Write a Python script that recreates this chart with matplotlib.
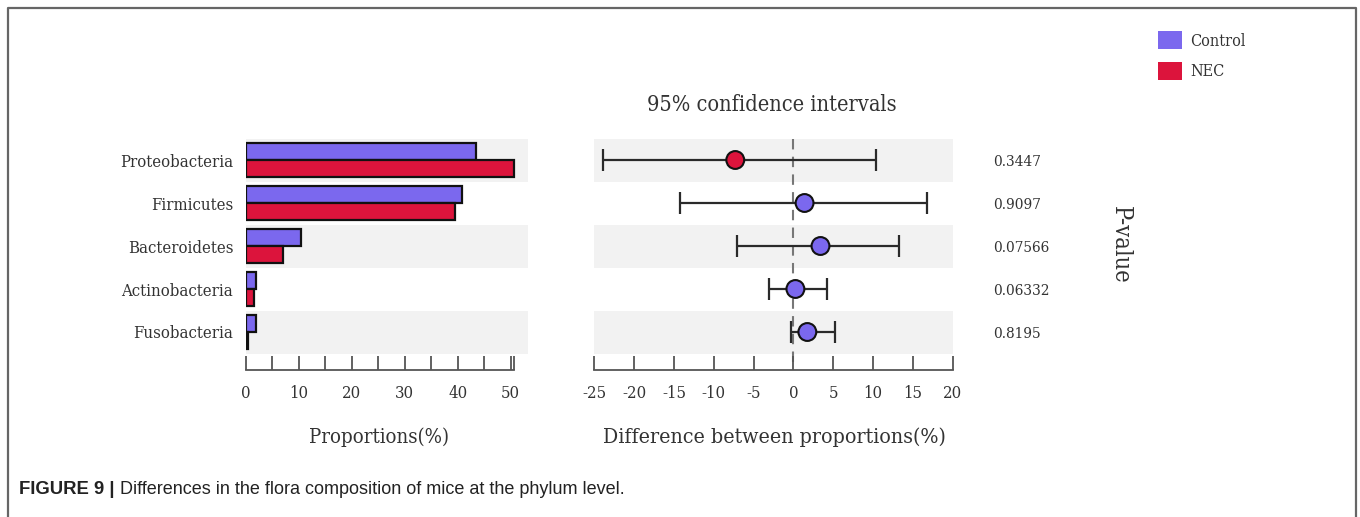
import matplotlib
matplotlib.use('Agg')
import matplotlib.pyplot as plt
import matplotlib.transforms as mtransforms
from matplotlib.patches import Rectangle
from matplotlib.lines import Line2D
import numpy as np

# ---------------- data ----------------
categories = ['Proteobacteria', 'Firmicutes', 'Bacteroidetes', 'Actinobacteria', 'Fusobacteria']
control_prop = [43.5, 40.9, 10.4, 1.9, 2.0]
nec_prop = [50.7, 39.5, 7.0, 1.6, 0.35]
diff_mean = [-7.3, 1.4, 3.4, 0.25, 1.75]
ci_low = [-23.9, -14.3, -7.1, -3.1, -0.3]
ci_high = [10.4, 16.8, 13.2, 4.2, 5.2]
p_values = ['0.3447', '0.9097', '0.07566', '0.06332', '0.8195']
prop_ticks = [0, 10, 20, 30, 40, 50]
diff_ticks = [-25, -20, -15, -10, -5, 0, 5, 10, 15, 20]
groups = ['Control', 'NEC']

# ---------------- style ----------------
C_CTRL = '#7B68EE'
C_NEC = '#DC143C'
TXT = '#333333'
BAND = '#f2f2f2'
AXC = '#555555'
plt.rcParams['font.family'] = ['DejaVu Serif']
plt.rcParams['font.stretch'] = 'condensed'
plt.rcParams['axes.unicode_minus'] = False

W, H = 1360, 517
fig = plt.figure(figsize=(W / 100, H / 100), dpi=100)
fig.patch.set_facecolor('white')


def fx(px):
    return px / W


def fy(py):
    return 1 - py / H


# row geometry (pixels): row centers at 160 + 43*i, axis line at 370, axes top 130
row_px0, row_step = 160, 43
ax_top_px, ax_bot_px = 130, 370
y_bot = (ax_bot_px - row_px0) / row_step
y_top = (ax_top_px - row_px0) / row_step
rows = np.arange(len(categories))

# ---------------- left panel ----------------
x0_px, ppu = 245.7, 5.3
ax1 = fig.add_axes([fx(x0_px), fy(ax_bot_px), (528 - x0_px) / W, (ax_bot_px - ax_top_px) / H])
ax1.set_xlim(0, (528 - x0_px) / ppu)
ax1.set_ylim(y_bot, y_top)
for i in rows[::2]:
    ax1.axhspan(i - 0.5, i + 0.5, color=BAND, zorder=0, lw=0)
bh = 0.39
ax1.barh(rows - bh / 2, control_prop, height=bh, color=C_CTRL, edgecolor='#111111', linewidth=1.6, zorder=2)
ax1.barh(rows + bh / 2, nec_prop, height=bh, color=C_NEC, edgecolor='#111111', linewidth=1.6, zorder=2)
ax1.set_yticks(rows)
ax1.set_yticklabels(categories)
ax1.set_xticks(prop_ticks)
ax1.set_xticks([t + 5 for t in prop_ticks[:-1]] + [50.6], minor=True)

# ---------------- right panel ----------------
r0_px, r1_px = 594.3, 952.7
ax2 = fig.add_axes([fx(r0_px), fy(ax_bot_px), (r1_px - r0_px) / W, (ax_bot_px - ax_top_px) / H])
ax2.set_xlim(diff_ticks[0], diff_ticks[-1])
ax2.set_ylim(y_bot, y_top)
for i in rows[::2]:
    ax2.axhspan(i - 0.5, i + 0.5, color=BAND, zorder=0, lw=0)
ax2.vlines(0, -0.5, y_bot, colors='#777777', linestyles=(0, (5, 3.5)), linewidth=1.5, zorder=1)
means = np.array(diff_mean)
ax2.errorbar(means, rows, xerr=[means - np.array(ci_low), np.array(ci_high) - means],
             fmt='none', ecolor='#2a2a2a', elinewidth=1.6, capsize=8, capthick=1.6, zorder=2)
pt_colors = [C_NEC if m < 0 else C_CTRL for m in diff_mean]
ax2.scatter(means, rows, s=165, c=pt_colors, edgecolors='#111111', linewidths=1.5, zorder=3)
ax2.set_xticks(diff_ticks)
ax2.set_yticks([])

blend = mtransforms.blended_transform_factory(ax2.transAxes, ax2.transData)
for i, p in zip(rows, p_values):
    ax2.text(1.112, i + 0.05, p, transform=blend, ha='left', va='center', fontsize=11, color=TXT)

for ax in (ax1, ax2):
    for s in ('top', 'right', 'left'):
        ax.spines[s].set_visible(False)
    ax.spines['bottom'].set_color(AXC)
    ax.spines['bottom'].set_linewidth(1.3)
    ax.tick_params(axis='x', which='both', direction='in', length=10, width=1.3, color=AXC,
                   pad=11, labelsize=12, labelcolor=TXT)
    ax.tick_params(axis='y', length=0, pad=9, labelsize=12, labelcolor=TXT)
    ax.set_facecolor('none')
ax1.spines['bottom'].set_bounds(0, 50.6)

# ---------------- texts ----------------
fig.text(fx(772), fy(105), '95% confidence intervals', ha='center', va='center', fontsize=15.6, color=TXT)
fig.text(fx(379), fy(437), 'Proportions(%)', ha='center', va='center', fontsize=14.7, color=TXT)
fig.text(fx(774), fy(437), 'Difference between proportions(%)', ha='center', va='center', fontsize=15.3, color=TXT)
fig.text(fx(1120), fy(245), 'P-value', ha='center', va='center', rotation=270, fontsize=17, color=TXT)

# legend
for k, (g, c) in enumerate(zip(groups, [C_CTRL, C_NEC])):
    ytop = 31 + 31 * k
    fig.patches.append(Rectangle((fx(1158), fy(ytop + 18)), 24 / W, 18 / H, transform=fig.transFigure,
                                 facecolor=c, edgecolor='none'))
    fig.text(fx(1190), fy(ytop + 10), g, ha='left', va='center', fontsize=11.6, color=TXT)

# frame
fig.add_artist(Line2D([fx(8), fx(8), fx(1356), fx(1356)], [0, fy(8), fy(8), 0],
                      transform=fig.transFigure, color='#666666', lw=1.6))

# caption
r = fig.canvas.get_renderer()
t1 = fig.text(fx(19), fy(490), 'FIGURE 9 |', ha='left', va='center', fontsize=13.3,
              fontweight='bold', family='Liberation Sans', color='#222222', stretch='normal')
bb = t1.get_window_extent(r)
fig.text(fx(bb.x1 + 6), fy(490), 'Differences in the flora composition of mice at the phylum level.',
         ha='left', va='center', fontsize=13, family='Liberation Sans', color='#222222', stretch='normal')

fig.savefig('out.png', dpi=100, facecolor='white')
